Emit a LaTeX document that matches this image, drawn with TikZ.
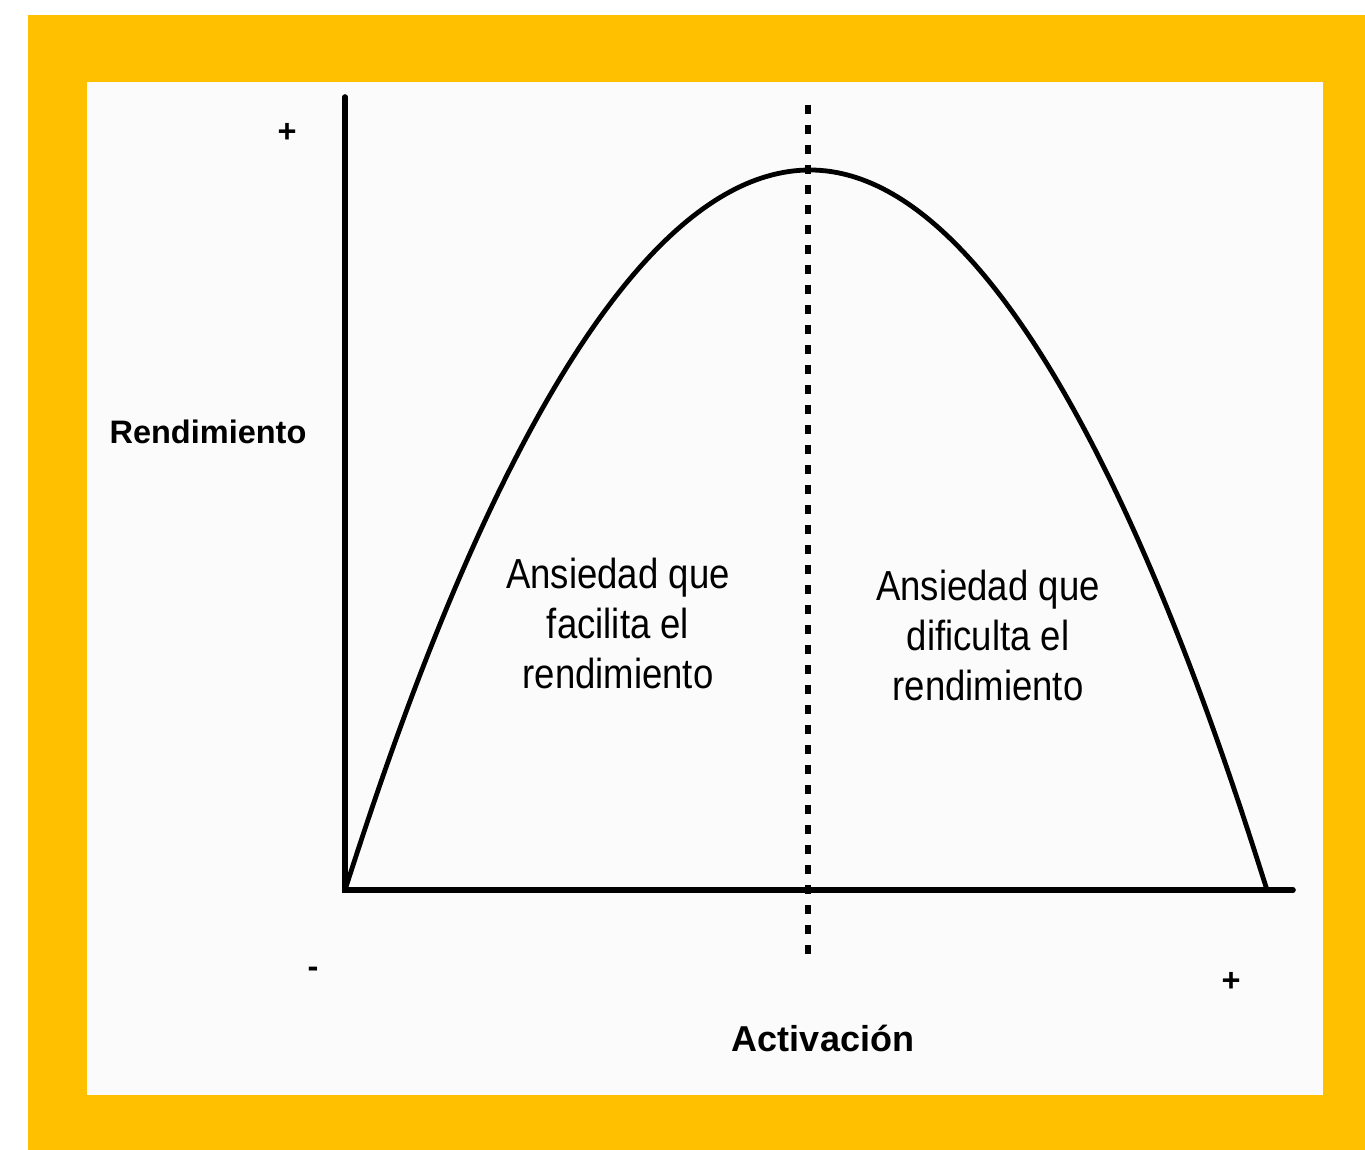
\documentclass[tikz,border=0pt]{standalone}
\usepackage{fontspec}
\setmainfont{Liberation Sans}
\newfontfamily\narrowsf[FakeStretch=0.87]{Liberation Sans}
\usetikzlibrary{positioning}
\definecolor{frameyellow}{RGB}{255,192,0}
\definecolor{panelgray}{RGB}{251,251,251}
\def\boldlab(#1){\fontsize{16.25}{18}\selectfont\bfseries #1}

\begin{document}
\begin{tikzpicture}[x=0.5pt,y=-0.5pt,
  axisline/.style={line width=2.8pt, line cap=round},
  curveline/.style={line width=2.4pt},
  peakline/.style={line width=3pt, dash pattern=on 4.5pt off 5.5pt},
  zone/.style={align=center, font=\narrowsf\fontsize{21}{25}\selectfont}]
\useasboundingbox (0,0) rectangle (1365,1150);
\fill[white] (0,0) rectangle (1365,1150);
\fill[frameyellow] (28,15) rectangle (1365,1150);
\fill[panelgray] (87,82) rectangle (1323,1095);
%\draw[help lines] (87,82) grid (1323,1095);
\coordinate (o) at (345,890);
\coordinate (ytop) at (345,97);
\coordinate (xend) at (1293,890);
\coordinate (peak) at (810,170);
\coordinate (xcut) at (1267,890);
\coordinate (dtop) at (808,105);
\coordinate (dbot) at (808,960);
\draw[axisline] (ytop)--(o)--(xend);
\draw[curveline] (o) parabola bend (peak) (xcut);
\draw[peakline] (dtop)--(dbot);
\node (yplus) at (287,133) {\boldlab(+)};
\node (ylab) at (208,432) {\boldlab(Rendimiento)};
\node (xminus) at (313,972) {\boldlab(-)};
\node (xplus) at (1231,982) {\boldlab(+)};
\node (xlab) at (823,1038) {\fontsize{18}{20}\selectfont\bfseries Activación};
\node[zone] (facil) at (618,623) {Ansiedad que\\facilita el\\rendimiento};
\node[zone] (dific) at (988,635) {Ansiedad que\\dificulta el\\rendimiento};
\end{tikzpicture}
\end{document}
